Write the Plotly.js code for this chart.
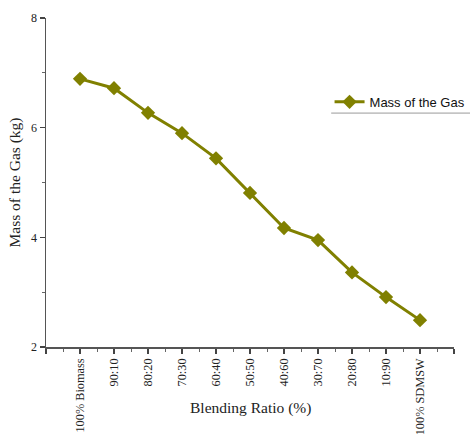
<!DOCTYPE html>
<html>
<head>
<meta charset="utf-8">
<script src="https://cdn.plot.ly/plotly-3.0.1.min.js"></script>
<style>html,body{margin:0;padding:0;background:#fff;}#chart{width:470px;height:434px;}</style>
</head>
<body>
<div id="chart"></div>
<script>
const categories = ["100% Biomass", "90:10", "80:20", "70:30", "60:40", "50:50", "40:60", "30:70", "20:80", "10:90", "100% SDMSW"];
const massOfGas = [6.89, 6.72, 6.27, 5.90, 5.44, 4.81, 4.17, 3.95, 3.36, 2.91, 2.49];
const seriesName = "Mass of the Gas";
const xTitle = "Blending Ratio (%)";
const yTitle = "Mass of the Gas (kg)";

const idx = categories.map((c, i) => i);
const tickvals = [-1].concat(idx).concat([categories.length]);
const ticktext = [""].concat(categories).concat([""]);

const olive = "#808000";
const serif = "Liberation Serif, Times New Roman, serif";

const trace = {
  x: idx,
  y: massOfGas,
  type: "scatter",
  mode: "lines+markers",
  name: seriesName,
  line: {color: olive, width: 3},
  marker: {symbol: "diamond", size: 11, color: olive}
};

const layout = {
  width: 470, height: 434,
  margin: {l: 46, r: 16, t: 18, b: 87, autoexpand: false},
  paper_bgcolor: "#fff", plot_bgcolor: "#fff",
  showlegend: true,
  legend: {x: 0.695, y: 0.745, xanchor: "left", yanchor: "middle",
           font: {family: "Liberation Sans, Arial, sans-serif", size: 13, color: "#111"},
           bgcolor: "rgba(0,0,0,0)"},
  xaxis: {
    range: [-1, categories.length], tickmode: "array", tickvals: tickvals, ticktext: ticktext,
    tickangle: -90, ticks: "outside", ticklen: 5, tickwidth: 1.3, tickcolor: "#444",
    showline: true, linecolor: "#555", linewidth: 1.5, showgrid: false, zeroline: false,
    automargin: false,
    tickfont: {family: serif, size: 12.3, color: "#222"},
    minor: {dtick: 0.5, tick0: 0, ticks: "outside", ticklen: 3, tickwidth: 1, tickcolor: "#666", showgrid: false}
  },
  yaxis: {
    range: [2, 8], dtick: 2, tick0: 2, ticks: "outside", ticklen: 5, tickwidth: 1.3, tickcolor: "#444",
    showline: true, linecolor: "#555", linewidth: 1.5, showgrid: false, zeroline: false,
    automargin: false,
    tickfont: {family: serif, size: 12, color: "#222"},
    minor: {dtick: 1, ticks: "outside", ticklen: 3, tickwidth: 1, tickcolor: "#666", showgrid: false},
    title: {text: yTitle, font: {family: serif, size: 15.5, color: "#222"}, standoff: 6}
  },
  annotations: [{text: xTitle, xref: "paper", yref: "paper", x: 0.5, y: -0.185,
                 xanchor: "center", yanchor: "middle", showarrow: false,
                 font: {family: serif, size: 15.5, color: "#222"}}],
  shapes: [{type: "line", xref: "paper", yref: "paper", x0: 0.699, x1: 1.04, y0: 0.711, y1: 0.711,
            line: {color: "#999", width: 1}}]
};

Plotly.newPlot("chart", [trace], layout, {displayModeBar: false, staticPlot: true});
</script>
</body>
</html>
